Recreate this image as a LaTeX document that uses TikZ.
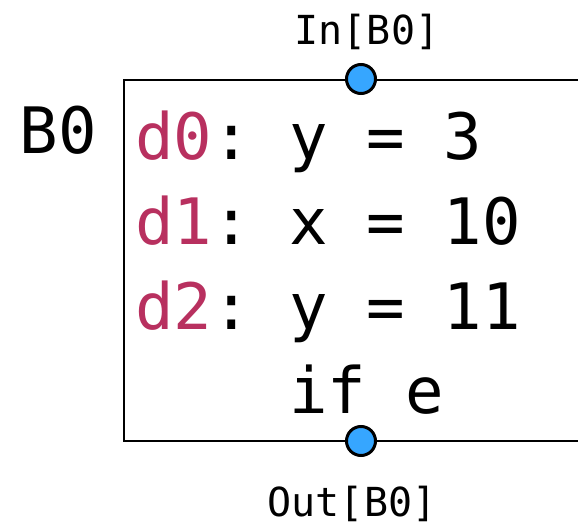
\documentclass[tikz,border=0pt]{standalone}
\usepackage{fontspec}
\newfontfamily\codefont{DejaVu Sans Mono}
\definecolor{defred}{HTML}{B8305F}
\definecolor{pointblue}{HTML}{36A6FF}
\frenchspacing
\tikzset{
  code/.style={anchor=base west, inner sep=0pt, font=\codefont\fontsize{64}{64}\selectfont},
  lbl/.style={anchor=base, inner sep=0pt, font=\codefont\fontsize{40}{40}\selectfont},
  pnt/.style={circle, draw, line width=3pt, fill=pointblue, minimum size=29pt, inner sep=0pt}
}
\begin{document}
\begin{tikzpicture}[x=1pt, y=-1pt, line width=2.6pt]
        \useasboundingbox (0,0) rectangle (578,527);
        % block frame, right side runs off the page
        \draw (590,80) -- (124,80) -- (124,441) -- (590,441);
        \node[code, anchor=base east] (bname) at (98,153) {B0};

        \node[code] (d0) at (134,159) {\textcolor{defred}{d0}: y = 3};
        \node[code] (d1) at (134,244) {\textcolor{defred}{d1}: x = 10};
        \node[code] (d2) at (134,329) {\textcolor{defred}{d2}: y = 11};
        \node[code] (cond) at (134,413) {\phantom{d2: }if e};

        \node[pnt] (inpt) at (361,79) {};
        \node[pnt] (outpt) at (361,441) {};
        \node[lbl] (inlbl) at (367,45) {In[B0]};
        \node[lbl] (outlbl) at (352,516) {Out[B0]};
    \end{tikzpicture}
\end{document}
